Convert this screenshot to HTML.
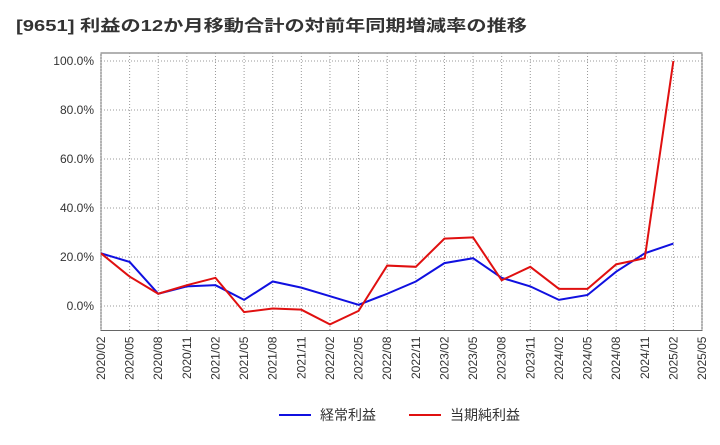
<!DOCTYPE html>
<html><head><meta charset="utf-8"><style>
body{margin:0;background:#fff;font-family:"Liberation Sans","Noto Sans CJK JP",sans-serif;}
</style></head><body>
<svg id="chart" width="720" height="440" xmlns="http://www.w3.org/2000/svg" font-family="Liberation Sans, Noto Sans CJK JP, sans-serif">
<text x="16" y="31" font-size="16" font-weight="bold" fill="#333" textLength="511" lengthAdjust="spacingAndGlyphs">[9651]  利益の12か月移動合計の対前年同期増減率の推移</text>
<g id="grid"></g><g id="axes"></g><g id="series"></g>
<g>
<line x1="279" y1="415" x2="311" y2="415" stroke="#1010e0" stroke-width="2"/>
<text x="320" y="420" font-size="14" fill="#333">経常利益</text>
<line x1="409" y1="415" x2="441" y2="415" stroke="#e01010" stroke-width="2"/>
<text x="450" y="420" font-size="14" fill="#333">当期純利益</text>
</g>
</svg>
<script>
const categories=["2020/02","2020/05","2020/08","2020/11","2021/02","2021/05","2021/08","2021/11","2022/02","2022/05","2022/08","2022/11","2023/02","2023/05","2023/08","2023/11","2024/02","2024/05","2024/08","2024/11","2025/02","2025/05"];
const ordinaryValues=[21.5,18,5,8,8.5,2.5,10,7.5,4,0.5,5,10,17.5,19.5,11.5,8,2.5,4.5,14,21.5,25.5];
const netValues=[21.5,12,5,8.5,11.5,-2.5,-1,-1.5,-7.5,-2,16.5,16,27.5,28,10.5,16,7,7,17,19.5,100];
const yTicks=[0,20,40,60,80,100];
const L=101,R=702,T=53,B=330.5;
const x=i=>L+i*(R-L)/(categories.length-1);
const y=v=>306-v*2.45;
const NS="http://www.w3.org/2000/svg";
function mk(tag,attrs,parent,txt){const e=document.createElementNS(NS,tag);for(const k in attrs)e.setAttribute(k,attrs[k]);if(txt!=null)e.textContent=txt;parent.appendChild(e);return e;}
const grid=document.getElementById('grid'),axes=document.getElementById('axes'),series=document.getElementById('series');
mk('rect',{x:L,y:T,width:R-L,height:B-T,fill:'#fff',stroke:'#666','stroke-width':1},grid);
categories.forEach((c,i)=>{
  const ln=mk('line',{x1:x(i),x2:x(i),y1:T,y2:B,stroke:'#999','stroke-dasharray':'1,2'},grid);
  
  
  const t=mk('text',{x:0,y:0,'font-size':12,fill:'#333','text-anchor':'end',transform:`translate(${x(i)+4},${B+6}) rotate(-90)`},axes,c);
  
  
});
yTicks.forEach(v=>{
  const ln=mk('line',{x1:L,x2:R,y1:y(v),y2:y(v),stroke:'#999','stroke-dasharray':'1,2'},grid);
  
  
  const t=mk('text',{x:L-7,y:y(v)+4,'font-size':12,fill:'#333','text-anchor':'end'},axes,v.toFixed(1)+'%');
  
  
});
function line(vals,color,name){
  const p=mk('polyline',{points:vals.map((v,i)=>x(i)+','+y(v)).join(' '),fill:'none',stroke:color,'stroke-width':2},series);
  
  
}
line(ordinaryValues,'#1010e0','ordinary-profit-line');
line(netValues,'#e01010','net-profit-line');
</script>
</body></html>
